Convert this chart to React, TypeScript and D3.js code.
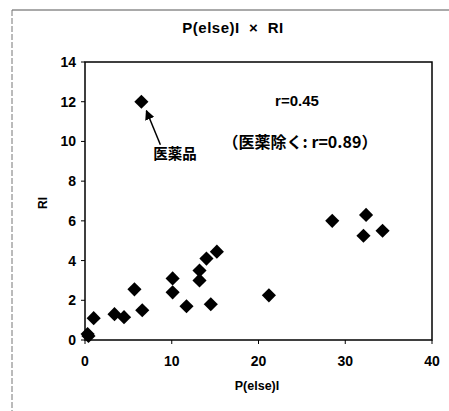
import React from 'react'
import * as d3 from 'd3'

// P(else)I values and RI values
const pElse = [6.5, 28.5, 32.4, 32.1, 34.3, 15.2, 14.0, 13.2, 13.2, 10.1, 10.1, 5.7, 6.6, 11.7, 14.5, 21.2, 3.4, 4.5, 1.0, 0.3, 0.4]
const ri = [12.0, 6.0, 6.3, 5.25, 5.5, 4.45, 4.1, 3.5, 3.0, 3.1, 2.4, 2.55, 1.5, 1.7, 1.8, 2.25, 1.3, 1.15, 1.1, 0.3, 0.2]
const xTicks = [0, 10, 20, 30, 40]
const yTicks = [0, 2, 4, 6, 8, 10, 12, 14]

const font = '"Liberation Sans", Arial, sans-serif'
const jpFont = '"Noto Sans CJK JP", "Liberation Sans", sans-serif'

export default function App() {
  const width = 449
  const height = 411
  const left = 85,
    right = 432,
    top = 62,
    bottom = 340

  const x = d3.scaleLinear().domain([0, 40]).range([left, right])
  const y = d3.scaleLinear().domain([0, 14]).range([bottom, top])

  const diamond = d3.symbol().type(d3.symbolSquare).size(100)()

  // the arrow runs from the label up to the outlier point
  const tip = [x(pElse[0]) + 5, y(ri[0]) + 9]
  const tail = [x(pElse[0]) + 19, y(ri[0]) + 43]

  return (
    <svg
      width={width}
      height={height}
      style={{ position: 'absolute', left: 0, top: 0, background: '#fff' }}
    >
      <defs>
        <marker id="arrow" viewBox="0 0 10 10" refX="9" refY="5" markerWidth="6.5" markerHeight="6.5" orient="auto">
          <path d="M0,0 L10,5 L0,10 z" fill="#000" />
        </marker>
      </defs>
      {/* outer frame */}
      <line x1={12} y1={10} x2={449} y2={10} stroke="#555" strokeWidth={1} />
      <line x1={12} y1={10} x2={12} y2={411} stroke="#777" strokeWidth={1} strokeDasharray="6,2" />

      <text
        x={233}
        y={33}
        textAnchor="middle"
        fontFamily={font}
        fontWeight="bold"
        fontSize={15}
        letterSpacing={0.5}
        style={{ whiteSpace: 'pre' }}
      >
        {'P(else)I  ×  RI'}
      </text>

      {/* plot area */}
      <rect x={left} y={top} width={right - left} height={bottom - top} fill="none" stroke="#000" strokeWidth={1.5} />

      {yTicks.map((t) => (
        <g key={'y' + t}>
          <line x1={left - 4} x2={left} y1={y(t)} y2={y(t)} stroke="#000" />
          <text x={left - 9} y={y(t) + 5} textAnchor="end" fontFamily={font} fontWeight="bold" fontSize={14}>
            {t}
          </text>
        </g>
      ))}
      {xTicks.map((t) => (
        <g key={'x' + t}>
          <line x1={x(t)} x2={x(t)} y1={bottom} y2={bottom + 4} stroke="#000" />
          <text x={x(t)} y={bottom + 26} textAnchor="middle" fontFamily={font} fontWeight="bold" fontSize={14}>
            {t}
          </text>
        </g>
      ))}

      <text x={257} y={390} textAnchor="middle" fontFamily={font} fontWeight="bold" fontSize={12.5}>
        P(else)I
      </text>
      <text
        transform={`translate(47,${(top + bottom) / 2 + 2}) rotate(-90)`}
        textAnchor="middle"
        fontFamily={font}
        fontWeight="bold"
        fontSize={12}
      >
        RI
      </text>

      {pElse.map((v, i) => (
        <path key={i} d={diamond!} transform={`translate(${x(v)},${y(ri[i])}) rotate(45)`} fill="#000" />
      ))}

      <line
        x1={tail[0]}
        y1={tail[1]}
        x2={tip[0]}
        y2={tip[1]}
        stroke="#000"
        strokeWidth={1.5}
        markerEnd="url(#arrow)"
      />
      <text x={175} y={159} textAnchor="middle" fontFamily={jpFont} fontWeight="bold" fontSize={14.5}>
        医薬品
      </text>

      <text x={297} y={106} textAnchor="middle" fontFamily={font} fontWeight="bold" fontSize={15}>
        r=0.45
      </text>
      <text x={300} y={148} textAnchor="middle" fontFamily={jpFont} fontWeight="bold" fontSize={16}>
        （医薬除く: r=0.89）
      </text>
    </svg>
  )
}
